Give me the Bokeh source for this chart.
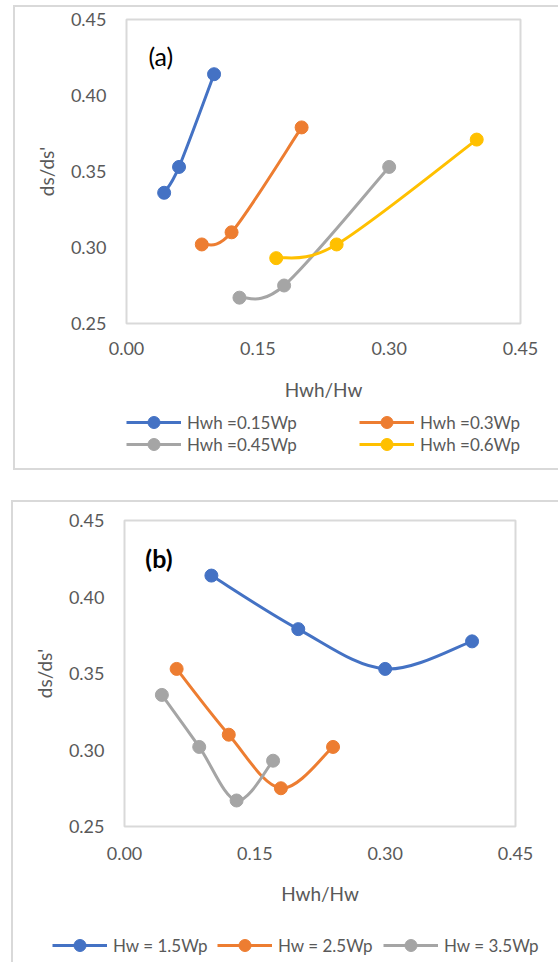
from bokeh.plotting import figure
from bokeh.models import (Range1d, FixedTicker, PrintfTickFormatter, Legend,
                          LegendItem, Label, ColumnDataSource)
from bokeh.layouts import column
from bokeh.embed import file_html
from bokeh.resources import INLINE

# ---------------- data ----------------
x_ticks = [0.0, 0.15, 0.30, 0.45]
y_ticks = [0.25, 0.30, 0.35, 0.40, 0.45]

# Panel (a): fixed Hwh
a_labels = ["Hwh =0.15Wp", "Hwh =0.3Wp", "Hwh =0.45Wp", "Hwh =0.6Wp"]
a_x_015 = [0.043, 0.060, 0.100]
a_y_015 = [0.336, 0.353, 0.414]
a_x_030 = [0.086, 0.120, 0.200]
a_y_030 = [0.302, 0.310, 0.379]
a_x_045 = [0.129, 0.180, 0.300]
a_y_045 = [0.267, 0.275, 0.353]
a_x_060 = [0.171, 0.240, 0.400]
a_y_060 = [0.293, 0.302, 0.371]

# Panel (b): fixed Hw
b_labels = ["Hw = 1.5Wp", "Hw = 2.5Wp", "Hw = 3.5Wp"]
b_x_15 = [0.100, 0.200, 0.300, 0.400]
b_y_15 = [0.414, 0.379, 0.353, 0.371]
b_x_25 = [0.060, 0.120, 0.180, 0.240]
b_y_25 = [0.353, 0.310, 0.275, 0.302]
b_x_35 = [0.043, 0.086, 0.129, 0.171]
b_y_35 = [0.336, 0.302, 0.267, 0.293]

BLUE, ORANGE, GRAY, YELLOW = "#4472C4", "#ED7D31", "#A5A5A5", "#FFC000"
TXT = "#595959"
BOX = "#d9d9d9"
FONT = "Lato"


def smooth_source(xs, ys):
    """Excel-like smoothed line: cubic Bezier segments between data points."""
    n = len(xs)
    d = dict(x0=[], y0=[], x1=[], y1=[], cx0=[], cy0=[], cx1=[], cy1=[])
    for i in range(n - 1):
        im = i - 1 if i > 0 else i
        ip = i + 2 if i + 2 < n else i + 1
        d["x0"].append(xs[i]); d["y0"].append(ys[i])
        d["x1"].append(xs[i + 1]); d["y1"].append(ys[i + 1])
        d["cx0"].append(xs[i] + (xs[i + 1] - xs[im]) / 6.0)
        d["cy0"].append(ys[i] + (ys[i + 1] - ys[im]) / 6.0)
        d["cx1"].append(xs[i + 1] - (xs[ip] - xs[i]) / 6.0)
        d["cy1"].append(ys[i + 1] - (ys[ip] - ys[i]) / 6.0)
    return ColumnDataSource(d)


def line_css(x, y, w, h):
    return f"linear-gradient({BOX},{BOX}) {x}px {y}px / {w}px {h}px no-repeat"


def bg(*lines):
    return ", ".join(list(lines) + ["#ffffff"])


def make_panel(height, b_left, b_right, b_top, b_bottom, background):
    p = figure(width=558, height=height,
               x_range=Range1d(0, 0.45), y_range=Range1d(0.25, 0.45),
               output_backend="svg", toolbar_location=None,
               min_border_left=b_left, min_border_right=b_right,
               min_border_top=b_top, min_border_bottom=b_bottom,
               frame_align=False,
               styles={"background": background})
    p.xgrid.visible = False
    p.ygrid.visible = False
    p.outline_line_color = BOX
    p.outline_line_width = 2
    p.outline_line_alpha = 1.0
    p.background_fill_color = "white"
    p.border_fill_alpha = 0.0
    p.xaxis.ticker = FixedTicker(ticks=x_ticks)
    p.yaxis.ticker = FixedTicker(ticks=y_ticks)
    p.xaxis.formatter = PrintfTickFormatter(format="%.2f")
    p.yaxis.formatter = PrintfTickFormatter(format="%.2f")
    for ax in (p.xaxis[0], p.yaxis[0]):
        ax.axis_line_color = None
        ax.major_tick_line_color = None
        ax.minor_tick_line_color = None
        ax.major_tick_out = 0
        ax.major_tick_in = 0
        ax.major_label_text_font = FONT
        ax.major_label_text_font_size = "18px"
        ax.major_label_text_color = TXT
        ax.axis_label_text_font = FONT
        ax.axis_label_text_font_size = "19px"
        ax.axis_label_text_font_style = "normal"
        ax.axis_label_text_color = TXT
    p.xaxis.axis_label = "Hwh/Hw"
    p.yaxis.axis_label = "ds/ds'"
    p.xaxis.major_label_standoff = 18
    p.xaxis.axis_label_standoff = 20
    p.yaxis.major_label_standoff = 20
    p.yaxis.axis_label_standoff = 10
    return p


def make_legend_strip(height, background):
    # a figure whose whole canvas is its frame; holds only the legend
    p = figure(width=558, height=height,
               x_range=Range1d(1, 2), y_range=Range1d(1, 2),
               output_backend="svg", toolbar_location=None,
               x_axis_location=None, y_axis_location=None,
               min_border_left=0, min_border_right=0,
               min_border_top=0, min_border_bottom=0,
               frame_align=False,
               styles={"background": background})
    p.xgrid.visible = False
    p.ygrid.visible = False
    p.outline_line_color = None
    p.background_fill_alpha = 0.0
    p.border_fill_alpha = 0.0
    return p


def add_series(p, xs, ys, color):
    line = p.bezier(x0="x0", y0="y0", x1="x1", y1="y1", cx0="cx0", cy0="cy0",
                    cx1="cx1", cy1="cy1", source=smooth_source(xs, ys),
                    line_color=color, line_width=3)
    pts = p.scatter(xs, ys, size=13, fill_color=color, line_color=color)
    return [line, pts]


def add_legend_item(p, label, renderers, vx, vy):
    lg = Legend(items=[LegendItem(label=label, renderers=renderers)],
                location=(vx, vy), orientation="horizontal",
                glyph_width=55, glyph_height=30, label_standoff=6,
                padding=0, margin=0, spacing=0,
                border_line_color=None, background_fill_alpha=0,
                label_text_font=FONT, label_text_font_size="17px",
                label_text_color=TXT)
    p.add_layout(lg)


# ---------------- panel (a) ----------------
pa = make_panel(410, 126, 38, 19, 87,
                bg(line_css(13, 5, 2, 405), line_css(13, 5, 545, 2)))
add_series(pa, a_x_015, a_y_015, BLUE)
add_series(pa, a_x_030, a_y_030, ORANGE)
add_series(pa, a_x_045, a_y_045, GRAY)
add_series(pa, a_x_060, a_y_060, YELLOW)
pa.add_layout(Label(x=0.025, y=0.4263, text="(a)", text_font=FONT,
                    text_font_size="25px", text_color="black",
                    text_baseline="middle", text_align="left"))

la = make_legend_strip(75, bg(line_css(13, 0, 2, 60), line_css(13, 58, 545, 2)))
add_legend_item(la, a_labels[0], add_series(la, a_x_015, a_y_015, BLUE), 126, 48)
add_legend_item(la, a_labels[1], add_series(la, a_x_030, a_y_030, ORANGE), 359, 48)
add_legend_item(la, a_labels[2], add_series(la, a_x_045, a_y_045, GRAY), 126, 26)
add_legend_item(la, a_labels[3], add_series(la, a_x_060, a_y_060, YELLOW), 359, 26)

# ---------------- panel (b) ----------------
pb = make_panel(428, 124, 43, 35, 87,
                bg(line_css(11, 15, 2, 413), line_css(11, 15, 547, 2)))
pb.xaxis.major_label_standoff = 20
pb.xaxis.axis_label_standoff = 19
add_series(pb, b_x_15, b_y_15, BLUE)
add_series(pb, b_x_25, b_y_25, ORANGE)
add_series(pb, b_x_35, b_y_35, GRAY)
pb.add_layout(Label(x=0.024, y=0.4258, text="(b)", text_font=FONT,
                    text_font_size="25px", text_font_style="bold",
                    text_color="black",
                    text_baseline="middle", text_align="left"))

lb = make_legend_strip(49, bg(line_css(11, 0, 2, 49)))
add_legend_item(lb, b_labels[0], add_series(lb, b_x_15, b_y_15, BLUE), 52, 2)
add_legend_item(lb, b_labels[1], add_series(lb, b_x_25, b_y_25, ORANGE), 217, 2)
add_legend_item(lb, b_labels[2], add_series(lb, b_x_35, b_y_35, GRAY), 383, 2)

layout = column(pa, la, pb, lb, spacing=0)
open("out.html", "w").write(file_html(layout, INLINE))
